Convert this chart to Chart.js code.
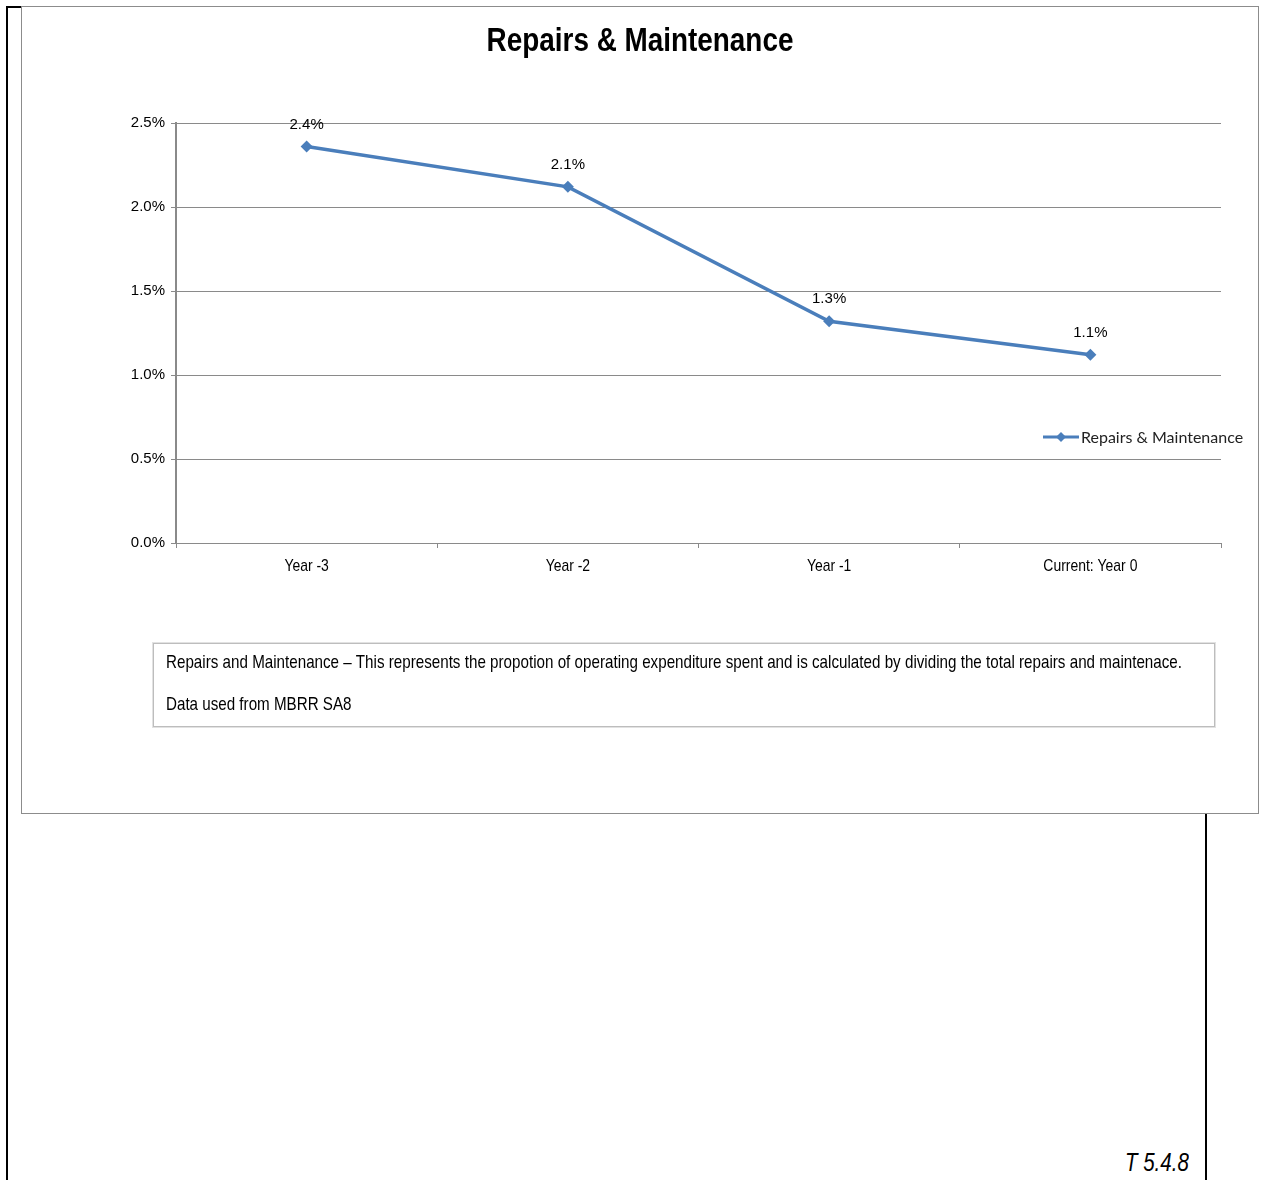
<!DOCTYPE html>
<html>
<head>
	<title>Repairs &amp; Maintenance</title>
	<style>
		body { margin: 0; background: #fff; width: 1262px; height: 1180px; position: relative; overflow: hidden; }
		.edge { position: absolute; background: #000; }
		#frame { position: absolute; left: 21px; top: 6px; width: 1236px; height: 806px; border: 1px solid #8c8c8c; background: #fff; }
		#chartBox { position: absolute; left: 22px; top: 7px; }
		#note { position: absolute; left: 153px; top: 643px; width: 1060px; height: 82px; border: 1px solid #bdbdbd; box-shadow: 0 0 0 1px #e2e2e2;
			font-family: 'Liberation Sans', Arial, sans-serif; font-size: 18.5px; color: #000; }
		/* Arial Narrow is not around, so squeeze Liberation Sans instead */
		.narrow { transform: scaleX(0.82); transform-origin: 0 0; white-space: nowrap; }
		#note .l1 { position: absolute; left: 12px; top: 7px; width: 1239px; text-align: justify; text-align-last: justify; }
		#note .l2 { position: absolute; left: 12px; top: 49px; }
		#ref { position: absolute; left: 1125px; top: 1148px; font-family: 'Liberation Sans', Arial, sans-serif; font-style: italic; font-size: 25px; color: #000; }
	</style>
</head>
<body>
	<!-- page border lines -->
	<div class="edge" style="left:6px; top:6px; width:2px; height:1174px;"></div>
	<div class="edge" style="left:6px; top:6px; width:16px; height:2px;"></div>
	<div class="edge" style="left:1205px; top:814px; width:2px; height:366px;"></div>

	<div id="frame"></div>
	<div id="chartBox"><canvas id="rmChart" width="1236" height="806"></canvas></div>

	<div id="note">
		<div class="l1 narrow">Repairs and Maintenance – This represents the propotion of operating expenditure spent and is calculated by dividing the total repairs and maintenace.</div>
		<div class="l2 narrow">Data used from MBRR SA8</div>
	</div>
	<div id="ref" class="narrow">T 5.4.8</div>

	<script src="https://cdn.jsdelivr.net/npm/chart.js@4/dist/chart.umd.min.js"></script>
	<script type="text/javascript">

		// chart data
		var years = ['Year -3', 'Year -2', 'Year -1', 'Current: Year 0'];
		var repairsPct = [2.36, 2.12, 1.32, 1.12];
		var seriesName = 'Repairs & Maintenance';
		var yTickValues = [0, 0.5, 1.0, 1.5, 2.0, 2.5];

		var lineBlue = '#4a7ebb';
		var gridGrey = '#8a8a8a';
		var sans = "'Liberation Sans', Arial, sans-serif";

		// text squeezed horizontally, stands in for Arial Narrow
		function narrowText(ctx, text, x, y, squeeze) {
			ctx.save();
			ctx.translate(x, y);
			ctx.scale(squeeze, 1);
			ctx.fillText(text, 0, 0);
			ctx.restore();
		}

		// title, category labels, point labels and the legend are painted by hand
		var extras = {
			id: 'extras',
			afterDatasetsDraw: function (chart) {
				var ctx = chart.ctx;
				ctx.save();

				ctx.fillStyle = '#000';
				ctx.textAlign = 'center';
				ctx.textBaseline = 'middle';
				ctx.font = "bold 34px " + sans;
				narrowText(ctx, 'Repairs & Maintenance', 618, 35, 0.82);

				// category names under the axis
				var xs = chart.scales.x;
				ctx.font = "17px " + sans;
				years.forEach(function (name, i) {
					narrowText(ctx, name, xs.getPixelForValue(i), chart.chartArea.bottom + 23, 0.82);
				});

				// value labels above each point
				ctx.font = "15px " + sans;
				var meta = chart.getDatasetMeta(0);
				meta.data.forEach(function (pt, i) {
					ctx.fillText(repairsPct[i].toFixed(1) + '%', pt.x, pt.y - 22);
				});

				// legend
				var lx = 1021, ly = 430;
				ctx.strokeStyle = lineBlue;
				ctx.lineWidth = 3;
				ctx.beginPath();
				ctx.moveTo(lx, ly);
				ctx.lineTo(lx + 36, ly);
				ctx.stroke();
				ctx.fillStyle = lineBlue;
				ctx.beginPath();
				ctx.moveTo(lx + 18, ly - 5);
				ctx.lineTo(lx + 23, ly);
				ctx.lineTo(lx + 18, ly + 5);
				ctx.lineTo(lx + 13, ly);
				ctx.closePath();
				ctx.fill();
				ctx.fillStyle = '#222';
				ctx.textAlign = 'left';
				ctx.font = "16px Lato, 'Open Sans', sans-serif";
				ctx.fillText(seriesName, lx + 38, ly + 1);

				ctx.restore();
			}
		};

		function makeChart() {
			new Chart('rmChart', {
				type: 'line',
				data: {
					labels: years,
					datasets: [{
						label: seriesName,
						data: repairsPct,
						borderColor: lineBlue,
						backgroundColor: lineBlue,
						borderWidth: 3.5,
						pointStyle: 'rectRot',
						pointRadius: 6,
						pointBorderWidth: 0,
						tension: 0
					}]
				},
				options: {
					responsive: false,
					animation: false,
					layout: { padding: { top: 116, right: 37, bottom: 230, left: 0 } },
					plugins: {
						legend: { display: false },
						title: { display: false },
						tooltip: { enabled: false }
					},
					scales: {
						x: {
							offset: true,
							grid: { display: true, drawOnChartArea: false, drawTicks: true, tickLength: 5, offset: true, color: gridGrey },
							border: { display: true, color: gridGrey, width: 1 },
							ticks: { color: 'rgba(0,0,0,0)', padding: 6, font: { family: sans, size: 16 } },
							afterFit: function (scale) { scale.height = 40; }
						},
						y: {
							min: 0,
							max: 2.5,
							afterBuildTicks: function (scale) {
								scale.ticks = yTickValues.map(function (v) { return { value: v }; });
							},
							grid: { color: gridGrey, lineWidth: 1, drawTicks: true, tickLength: 5 },
							border: { display: true, color: gridGrey, width: 2 },
							ticks: {
								color: '#000',
								padding: 6,
								font: { family: sans, size: 15 },
								callback: function (v) { return Number(v).toFixed(1) + '%'; }
							},
							afterFit: function (scale) { scale.width = 154; }
						}
					}
				},
				plugins: [extras]
			});
		}

		window.onload = makeChart;

	</script>
</body>
</html>
